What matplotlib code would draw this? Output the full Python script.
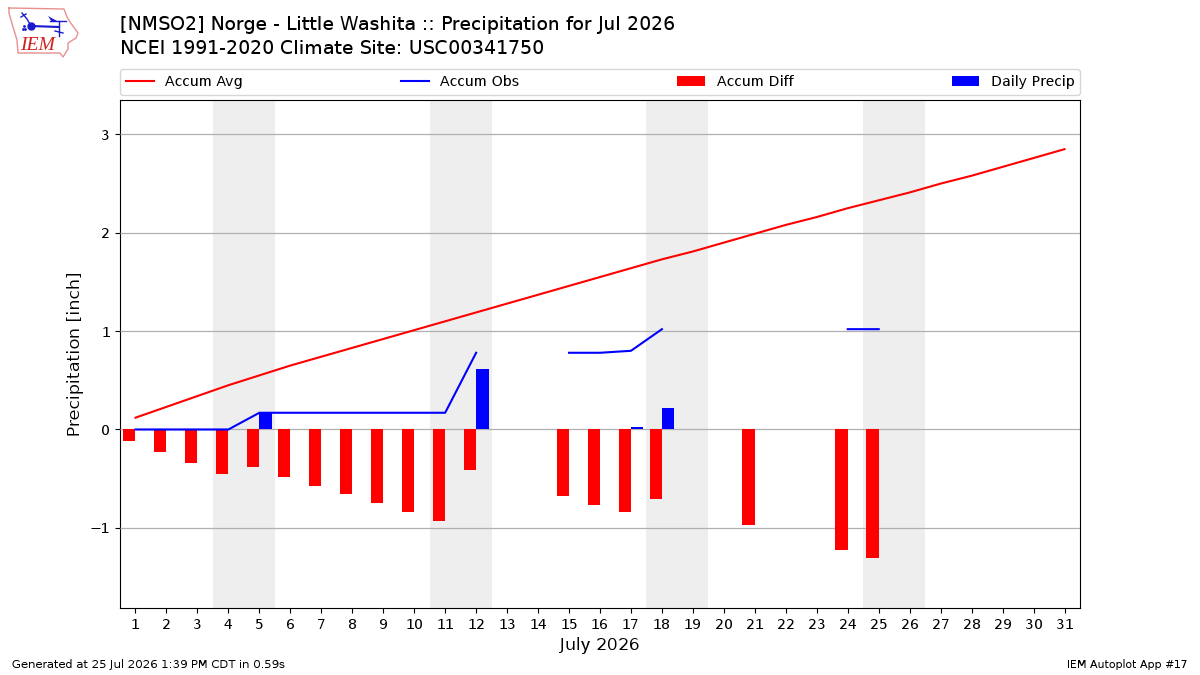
import numpy as np
import matplotlib
matplotlib.use("Agg")
import matplotlib.pyplot as plt

days = list(range(1, 32))
nan = float("nan")
accum_avg = [0.12, 0.23, 0.34, 0.45, 0.55, 0.65, 0.74, 0.83, 0.92, 1.01, 1.10,
             1.19, 1.28, 1.37, 1.46, 1.55, 1.64, 1.73, 1.81, 1.90, 1.99, 2.08,
             2.16, 2.25, 2.33, 2.41, 2.50, 2.58, 2.67, 2.76, 2.85]
accum_obs = [0, 0, 0, 0, 0.17, 0.17, 0.17, 0.17, 0.17, 0.17, 0.17, 0.78, nan, nan,
             0.78, 0.78, 0.80, 1.02, nan, nan, nan, nan, nan, 1.02, 1.02,
             nan, nan, nan, nan, nan, nan]
accum_diff = [-0.12, -0.23, -0.34, -0.45, -0.38, -0.48, -0.57, -0.66, -0.75, -0.84,
              -0.93, -0.41, nan, nan, -0.68, -0.77, -0.84, -0.71, nan, nan, -0.97,
              nan, nan, -1.23, -1.31, nan, nan, nan, nan, nan, nan]
daily_precip = [0, 0, 0, 0, 0.17, 0, 0, 0, 0, 0, 0, 0.61, nan, nan, 0, 0, 0.025, 0.22,
                nan, nan, nan, nan, nan, 0, 0, nan, nan, nan, nan, nan, nan]
weekend_spans = [(3.5, 5.5), (10.5, 12.5), (17.5, 19.5), (24.5, 26.5)]

plt.rcParams["text.hinting"] = "native"
plt.rcParams["text.hinting_factor"] = 2

fig = plt.figure(figsize=(12, 6.75), dpi=100)
ax = fig.add_axes([120 / 1200, 1 - 608 / 675, 960 / 1200, 508 / 675])

for start, end in weekend_spans:
    ax.axvspan(start, end, color="#eeeeee", lw=0, zorder=1)
ax.grid(True, axis="y", color="#b0b0b0", lw=0.9, zorder=2)
ax.set_axisbelow(False)

ax.plot(days, accum_avg, color="red", lw=1.5, label="Accum Avg", zorder=4)
ax.plot(days, accum_obs, color="blue", lw=1.5, label="Accum Obs", zorder=4)
ax.bar(days, accum_diff, width=-0.4, align="edge", color="red", label="Accum Diff", zorder=3)
ax.bar(days, daily_precip, width=0.4, align="edge", color="blue", label="Daily Precip", zorder=3)

ax.set_xlim(0.5, 31.5)
ax.set_ylim(-1.815, 3.35)
ax.set_xticks(days)
ax.set_yticks([-1, 0, 1, 2, 3])
ax.yaxis.set_major_formatter(lambda v, pos: f"{int(v)}".replace("-", "\u2212"))
ax.tick_params(labelsize=10)
ax.set_xlabel("July 2026", fontsize=12.4)
ax.set_ylabel("Precipitation [inch]", fontsize=12.6)
ax.legend(loc="lower left", bbox_to_anchor=(0, 1.01, 1, 0.05), ncol=4, mode="expand",
          borderaxespad=0, fontsize=10.05, frameon=True, borderpad=0.42)

fig.text(120 / 1200, 1 - 25.5 / 675, "[NMSO2] Norge - Little Washita :: Precipitation for Jul 2026",
         fontsize=13.55, va="center", ha="left")
fig.text(120 / 1200, 1 - 48.5 / 675, "NCEI 1991-2020 Climate Site: USC00341750",
         fontsize=13.55, va="center", ha="left")
fig.text(12 / 1200, 1 - 665 / 675, "Generated at 25 Jul 2026 1:39 PM CDT in 0.59s",
         fontsize=8.25, va="center", ha="left")
fig.text(1188 / 1200, 1 - 665 / 675, "IEM Autoplot App #17",
         fontsize=8.1, va="center", ha="right")

# IEM logo: state outline, station symbol and wordmark, in pixel coordinates
logo = fig.add_axes([0, 1 - 65 / 675, 90 / 1200, 65 / 675])
logo.set_xlim(0, 90)
logo.set_ylim(65, 0)
logo.axis("off")
outline_x = [9, 64, 67, 70, 78, 76, 68, 68, 63, 60, 18, 17, 13, 9, 9]
outline_y = [8, 9, 17, 22, 33, 38, 43, 49, 57, 53, 53, 40, 27, 13, 8]
logo.plot(outline_x, outline_y, color="#e89090", lw=1)
symbol = "#1a1ad0"
logo.plot([31, 59], [26, 27], color=symbol, lw=1.5)
logo.plot([31], [26], "o", color=symbol, ms=5)
logo.fill([48, 57, 52], [16, 21, 22], color=symbol, lw=0)
logo.plot([50, 66], [21, 21], color=symbol, lw=1)
logo.plot([59, 59], [21, 36], color=symbol, lw=1)
logo.plot([55, 63], [31, 33], color=symbol, lw=1)
logo.plot([22, 27, 31], [13, 19, 26], color=symbol, lw=1)
logo.plot([21, 26], [17, 14], color=symbol, lw=1)
logo.plot([23, 25, 24], [29, 29, 26], ".", color=symbol, ms=2)
logo.text(37.5, 45.5, "IEM", family="Liberation Serif", style="italic", color="#d02020",
          fontsize=14.5, ha="center", va="center")

fig.savefig("out.png", dpi=100)
